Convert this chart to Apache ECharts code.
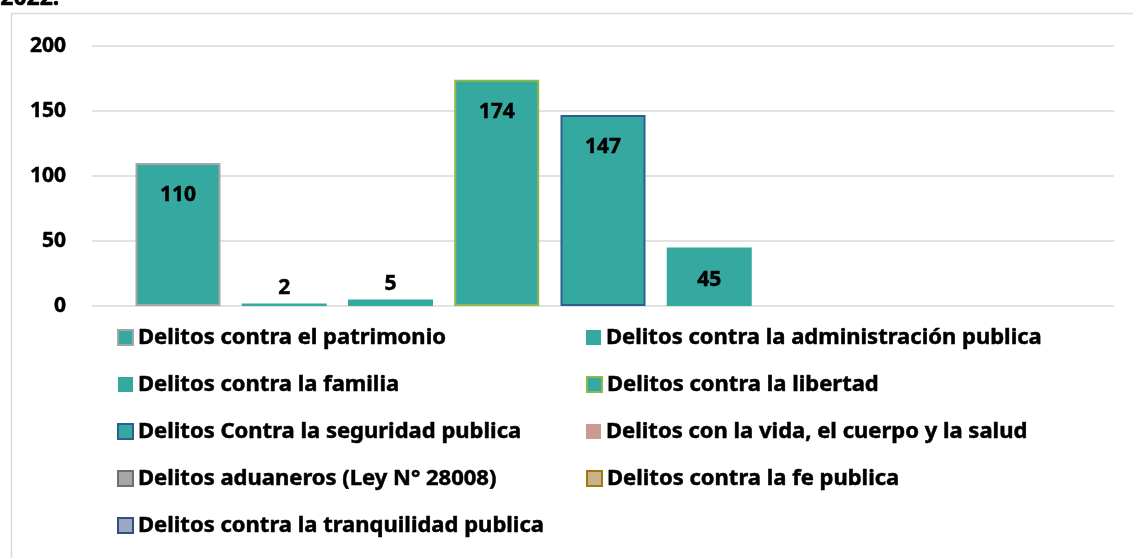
<!DOCTYPE html>
<html>
<head>
<meta charset="utf-8">
<script src="https://cdn.jsdelivr.net/npm/echarts@6/dist/echarts.min.js"></script>
<style>
  html, body { margin: 0; padding: 0; background: #ffffff; }
  #chart { width: 1133px; height: 558px; }
</style>
</head>
<body>
<div id="chart"></div>
<script>
// Crime categories (one bar per series)
const seriesNames = [
  'Delitos contra el patrimonio',
  'Delitos contra la administración publica',
  'Delitos contra la familia',
  'Delitos contra la libertad',
  'Delitos Contra la seguridad publica',
  'Delitos con la vida, el cuerpo y la salud',
  'Delitos aduaneros (Ley N° 28008)',
  'Delitos contra la fe publica',
  'Delitos contra la tranquilidad publica'
];
// Number of cases per category (null = no bar drawn)
const caseCounts = [110, 2, 5, 174, 147, 45, null, null, null];
const categories = ['2022'];
const yTicks = [0, 50, 100, 150, 200];

// Legend swatch colours / borders per series
const legendFill = ['#35a9a0', '#35a9a0', '#35a9a0', '#35a9a0', '#35a9a0', '#cc9a90', '#a6a6a6', '#c9b18f', '#9da6c3'];
const legendBorder = ['#a6a6a6', null, null, '#8cb84e', '#2e5e91', null, '#6f6f6f', '#9c7a0c', '#2f4f86'];
// Bar fill actually drawn
const barFill = '#35a9a0';

const FONT = '"Noto Sans", "Open Sans", sans-serif';
// heavy black text used throughout
const heavyText = {
  color: '#000000',
  fontFamily: FONT,
  fontWeight: 'bold',
  textBorderColor: '#000000',
  textBorderWidth: 0.5
};

const series = seriesNames.map((name, i) => {
  const v = caseCounts[i];
  const small = v !== null && v < 20;
  return {
    name: name,
    type: 'bar',
    barWidth: 85,
    barGap: '25%',
    itemStyle: {
      color: legendFill[i],
      borderColor: legendBorder[i] || legendFill[i],
      borderWidth: legendBorder[i] ? 2 : 0
    },
    label: Object.assign({
      show: true,
      position: small ? 'top' : 'insideTop',
      distance: small ? 5 : 22,
      fontSize: 21
    }, heavyText),
    data: [{
      value: v,
      itemStyle: {
        color: barFill,
        borderColor: legendBorder[i] || barFill,
        borderWidth: legendBorder[i] ? 2 : 0
      }
    }]
  };
});

const chart = echarts.init(document.getElementById('chart'), null, { renderer: 'canvas' });
chart.setOption({
  animation: false,
  backgroundColor: '#ffffff',
  graphic: [
    {
      type: 'rect',
      left: 9, top: 11,
      shape: { x: 0, y: 0, width: 1300, height: 700 },
      style: { fill: 'none', stroke: '#d9d9d9', lineWidth: 1.5 },
      silent: true, z: -10
    },
    {
      type: 'text',
      left: 0, top: -13,
      style: { text: '2022.', fill: '#000', stroke: '#000', lineWidth: 0.5, font: 'bold 23px ' + FONT }
    }
  ],
  grid: { left: 92, right: 19, top: 46, bottom: 252, containLabel: false },
  xAxis: {
    type: 'category',
    data: categories,
    axisLine: { show: false },
    axisTick: { show: false },
    axisLabel: { show: false }
  },
  yAxis: {
    type: 'value',
    min: yTicks[0],
    max: yTicks[yTicks.length - 1],
    interval: 50,
    axisLine: { show: false },
    axisTick: { show: false },
    axisLabel: Object.assign({ margin: 26, fontSize: 21 }, heavyText),
    splitLine: { lineStyle: { color: '#d9d9d9', width: 1.5 } }
  },
  legend: {
    left: 112,
    top: 320,
    width: 960,
    orient: 'horizontal',
    itemWidth: 15,
    itemHeight: 15,
    itemGap: 22,
    icon: 'rect',
    data: seriesNames,
    textStyle: Object.assign({ width: 426, lineHeight: 25, fontSize: 22 }, heavyText)
  },
  series: series
});
</script>
</body>
</html>
